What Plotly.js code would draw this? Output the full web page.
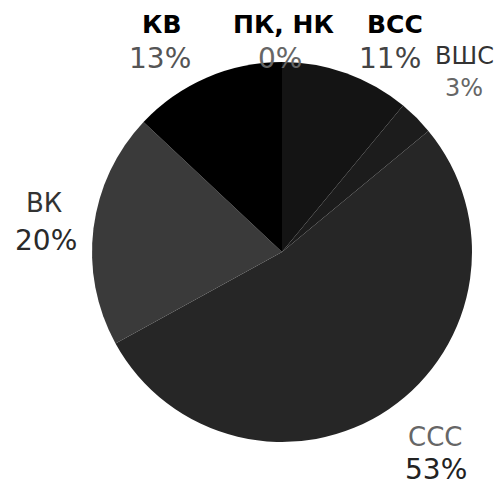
<!DOCTYPE html>
<html><head><meta charset="utf-8">
<script src="https://cdn.plot.ly/plotly-3.0.1.min.js"></script>
<style>html,body{margin:0;padding:0;background:#fff}</style>
</head><body><div id="chart" style="width:501px;height:486px"></div>
<script>
// categories in clockwise order starting at 12 o'clock
const categories = ["ПК, НК", "ВСС", "ВШС", "ССС", "ВК", "КВ"];
const shares = [0, 11, 3, 53, 20, 13];
const sliceColors = ["#000000", "#141414", "#1c1c1c", "#262626", "#3a3a3a", "#000000"];

// label placement (pixel coords) and style per category
const labelPos = {
  "КВ":     {name:[162,24], pct:[160,58], bold:true,  nameSize:25, pctSize:28, nameColor:"#000", pctColor:"#555"},
  "ПК, НК": {name:[283,24], pct:[280,58], bold:true,  nameSize:25, pctSize:28, nameColor:"#000", pctColor:"#666"},
  "ВСС":    {name:[395,24], pct:[390,58], bold:true,  nameSize:25, pctSize:28, nameColor:"#000", pctColor:"#444"},
  "ВШС":    {name:[464,56], pct:[464,88], bold:false, nameSize:24, pctSize:24, nameColor:"#333", pctColor:"#666"},
  "ВК":     {name:[44,203], pct:[46,240], bold:false, nameSize:26, pctSize:28, nameColor:"#333", pctColor:"#2a2a2a"},
  "ССС":    {name:[435,437],pct:[436,469],bold:false, nameSize:26, pctSize:28, nameColor:"#666", pctColor:"#222"}
};

const W = 501, H = 486;
const annotations = [];
categories.forEach((c, i) => {
  const p = labelPos[c];
  annotations.push({
    x: p.name[0]/W, y: 1 - p.name[1]/H, xref:"paper", yref:"paper",
    xanchor:"center", yanchor:"middle", showarrow:false, borderpad:0,
    text: p.bold ? "<b>" + c + "</b>" : c,
    font:{family:"DejaVu Sans", size:p.nameSize, color:p.nameColor}
  });
  annotations.push({
    x: p.pct[0]/W, y: 1 - p.pct[1]/H, xref:"paper", yref:"paper",
    xanchor:"center", yanchor:"middle", showarrow:false, borderpad:0,
    text: shares[i] + "%",
    font:{family:"DejaVu Sans", size:p.pctSize, color:p.pctColor}
  });
});

const cx = 282, cy = 252, r = 190;
Plotly.newPlot("chart", [{
  type:"pie", labels:categories, values:shares, sort:false,
  direction:"clockwise", rotation:0, textinfo:"none", hoverinfo:"none",
  marker:{colors:sliceColors, line:{width:0}},
  domain:{x:[(cx-r)/W,(cx+r)/W], y:[(H-cy-r)/H,(H-cy+r)/H]}
}], {
  width:W, height:H, margin:{l:0,r:0,t:0,b:0},
  paper_bgcolor:"#fff", showlegend:false, annotations:annotations
}, {displayModeBar:false, staticPlot:true});
</script></body></html>
